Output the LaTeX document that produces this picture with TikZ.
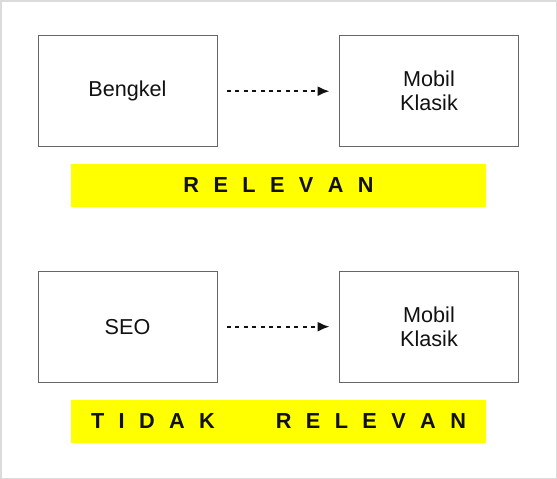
\documentclass[tikz,border=0pt]{standalone}
\usepackage{fontspec}
\setmainfont{Liberation Sans}
\usetikzlibrary{arrows.meta}
\definecolor{yel}{RGB}{255,255,0}
\definecolor{ink}{RGB}{17,17,17}
\newcommand\gp{\kern14.4pt}
\begin{document}
\begin{tikzpicture}[x=1pt,y=-1pt,
  box/.style={draw=black!60,line width=0.9pt,minimum width=179pt,minimum height=111pt,inner sep=0pt,
    font=\fontsize{21.6pt}{24pt}\selectfont,text=ink,align=center},
  band/.style={fill=yel,minimum width=415pt,minimum height=42.5pt,inner sep=0pt,
    font=\fontsize{21.7pt}{24pt}\selectfont\bfseries,text=ink},
  conn/.style={line width=1.8pt,dash pattern=on 4pt off 4.4pt,-{Latex[length=12pt,width=10pt]},ink}]
\useasboundingbox (0,0) rectangle (557,479);
\draw[black!14,line width=1.5pt] (0.75,0.75) rectangle (556.25,478.25);
% row 1
\node[box] (b1) at (127.5,91.2) {Bengkel};
\node[box] (m1) at (429,91.2) {Mobil\\Klasik};
\draw[conn] ([xshift=9.5pt]b1.east) -- ([xshift=-9.5pt]m1.west);
\node[band] (r1) at (278.5,185.5) {R\gp E\gp L\gp E\gp V\gp A\gp N};
% row 2
\node[box] (b2) at (127.5,326.7) {SEO};
\node[box] (m2) at (429,326.7) {Mobil\\Klasik};
\draw[conn] ([xshift=9.5pt]b2.east) -- ([xshift=-9.5pt]m2.west);
\node[band] (r2) at (278.5,421.5) {T\gp I\gp D\gp A\gp K\kern61pt R\gp E\gp L\gp E\gp V\gp A\gp N};
\end{tikzpicture}
\end{document}
